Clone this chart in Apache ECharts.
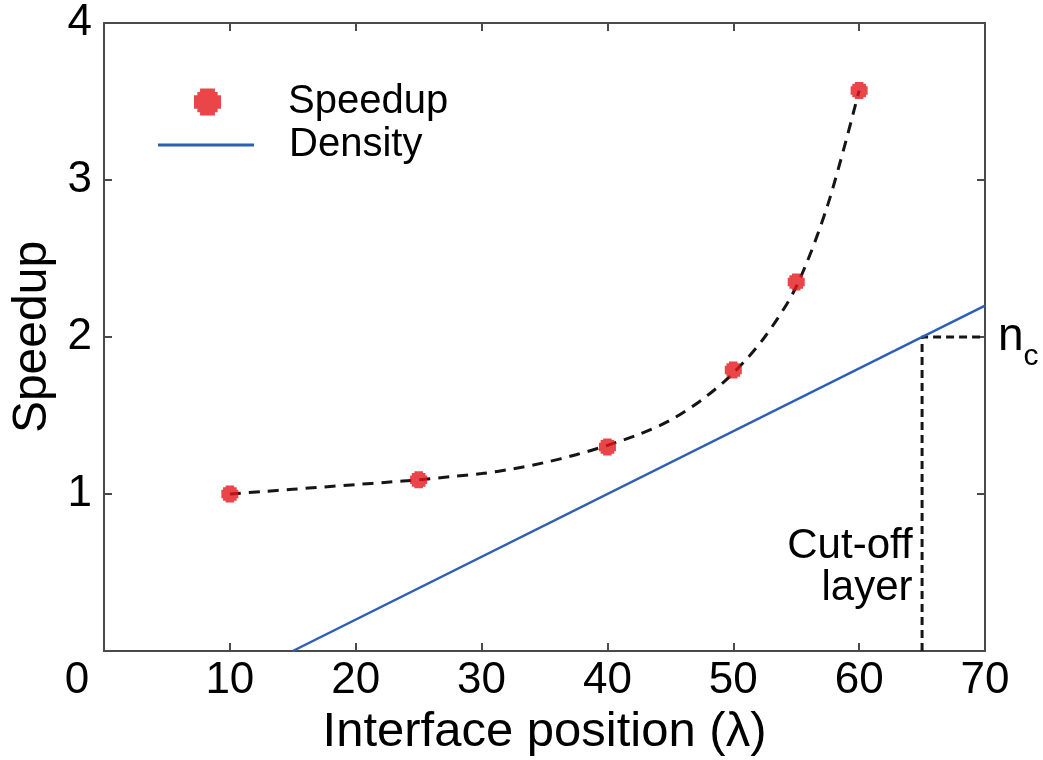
<!DOCTYPE html>
<html>
<head>
<meta charset="utf-8">
<script src="https://cdn.jsdelivr.net/npm/echarts@6/dist/echarts.min.js"></script>
<style>
  html, body { margin: 0; padding: 0; background: #ffffff; }
  #chart { width: 1043px; height: 760px; }
</style>
</head>
<body>
<div id="chart"></div>
<script>
// Measured speedup at each interface position (in units of λ)
const positions = [10, 25, 40, 50, 55, 60];
const speedup = [1.0, 1.09, 1.30, 1.79, 2.35, 3.57];

// Fitted trend through the measurements (dashed curve)
const fitX = [10, 12.5, 15, 17.5, 20, 22.5, 25, 27.5, 30, 32.5, 35, 37.5, 40, 42.5, 45, 47.5, 50, 52.5, 55, 57.5, 60];
const fitY = [1.00, 1.015, 1.03, 1.045, 1.06, 1.075, 1.09, 1.11, 1.13, 1.16, 1.20, 1.25, 1.31, 1.38, 1.47, 1.60, 1.77, 2.00, 2.32, 2.84, 3.57];

// Density profile (straight line)
const densityX = [15, 70];
const densityY = [0, 2.2];

// Cut-off layer guide: down to the axis at x = 65, across to the right edge at n_c
const cutoffX = [65, 65, 70];
const cutoffY = [0, 2, 2];
const cutoffLabelY = 0.53;

// Axis ranges and ticks
const xRange = [0, 70];
const xStep = 10;
const yRange = [0, 4];
const yStep = 1;

const FONT = '"Liberation Sans", Arial, Helvetica, sans-serif';
const AXIS_COLOR = '#4a4a4a';
const RED = '#e5161a';
const BLUE = '#2d5fb4';
const DARK = '#151515';
const MARKER = 'path://M5,0 H15 V2 H18 V5 H20 V15 H18 V18 H15 V20 H5 V18 H2 V15 H0 V5 H2 V2 H5 Z';
const LEGEND_MARKER = 'path://M4.5,0 H15.5 V2.5 H17.5 V5 H20 V15 H17.5 V17.5 H15.5 V20 H4.5 V17.5 H2.5 V15 H0 V5 H2.5 V2.5 H4.5 Z';

const zip = (xs, ys) => xs.map((x, i) => [x, ys[i]]);

const axisLine = { show: true, onZero: false, lineStyle: { color: AXIS_COLOR, width: 2 } };
const axisTick = { show: true, inside: true, length: 8, lineStyle: { color: AXIS_COLOR, width: 2 } };

const chart = echarts.init(document.getElementById('chart'), null, { renderer: 'canvas' });

chart.setOption({
  animation: false,
  backgroundColor: '#ffffff',
  textStyle: { fontFamily: FONT },
  grid: {
    left: 104, right: 58, top: 23, bottom: 109,
    containLabel: false,
    outerBoundsMode: 'none'
  },
  legend: [
    {
      data: [{ name: 'Speedup', icon: LEGEND_MARKER }],
      left: 194, top: 82,
      padding: 0,
      orient: 'vertical',
      itemWidth: 27, itemHeight: 27,
      selectedMode: false,
      textStyle: { fontFamily: FONT, fontSize: 40, color: '#000', padding: [0, 0, 0, 62] }
    },
    {
      data: [{ name: 'Density', icon: 'rect' }],
      left: 158, top: 125,
      padding: 0,
      orient: 'vertical',
      itemWidth: 96, itemHeight: 3,
      selectedMode: false,
      textStyle: { fontFamily: FONT, fontSize: 40, color: '#000', padding: [0, 0, 0, 30] }
    }
  ],
  xAxis: [
    {
      type: 'value',
      position: 'bottom',
      min: xRange[0], max: xRange[1], interval: xStep,
      axisLine, axisTick,
      splitLine: { show: false },
      axisLabel: {
        fontFamily: FONT, fontSize: 44, color: '#000', margin: 8,
        formatter: v => (v === 0 ? '{z|0}' : String(v)),
        rich: { z: { fontFamily: FONT, fontSize: 44, color: '#000', padding: [0, 54, 0, 0] } }
      },
      name: 'Interface position (λ)',
      nameLocation: 'middle',
      nameGap: 45,
      nameTextStyle: { fontFamily: FONT, fontSize: 49, color: '#000' }
    },
    {
      type: 'value',
      position: 'top',
      min: xRange[0], max: xRange[1], interval: xStep,
      axisLine, axisTick,
      splitLine: { show: false },
      axisLabel: { show: false }
    }
  ],
  yAxis: [
    {
      type: 'value',
      position: 'left',
      min: yRange[0], max: yRange[1], interval: yStep,
      axisLine, axisTick,
      splitLine: { show: false },
      axisLabel: {
        fontFamily: FONT, fontSize: 44, color: '#000', margin: 12,
        formatter: v => (v === 0 ? '' : String(v))
      },
      name: 'Speedup',
      nameLocation: 'middle',
      nameGap: 42,
      nameTextStyle: { fontFamily: FONT, fontSize: 48, color: '#000' }
    },
    {
      type: 'value',
      position: 'right',
      min: yRange[0], max: yRange[1], interval: yStep,
      axisLine, axisTick,
      splitLine: { show: false },
      axisLabel: { show: false }
    }
  ],
  series: [
    {
      name: 'fit',
      type: 'line',
      data: zip(fitX, fitY),
      smooth: 0.3,
      symbol: 'none',
      silent: true,
      z: 2,
      lineStyle: { color: DARK, width: 3, type: [11, 8] }
    },
    {
      name: 'Speedup',
      type: 'scatter',
      data: zip(positions, speedup),
      symbol: MARKER,
      symbolSize: 17,
      z: 4,
      itemStyle: { color: RED }
    },
    {
      name: 'Density',
      type: 'line',
      data: zip(densityX, densityY),
      symbol: 'none',
      z: 3,
      lineStyle: { color: BLUE, width: 2.5 },
      itemStyle: { color: BLUE }
    },
    {
      name: 'cutoff',
      type: 'line',
      data: zip(cutoffX, cutoffY),
      symbol: 'none',
      silent: true,
      z: 2,
      lineStyle: { color: DARK, width: 3, type: [8, 5] },
      endLabel: {
        show: true,
        distance: 13,
        formatter: '{n|n}{c|c}',
        rich: {
          n: { fontFamily: FONT, fontSize: 46, color: '#000', verticalAlign: 'top', lineHeight: 46 },
          c: { fontFamily: FONT, fontSize: 30, color: '#000', verticalAlign: 'top', lineHeight: 30, padding: [28, 0, 0, 0] }
        }
      },
      markPoint: {
        silent: true,
        symbol: 'circle',
        symbolSize: 1,
        itemStyle: { color: 'rgba(0,0,0,0)' },
        data: [{ coord: [cutoffX[0], cutoffLabelY] }],
        label: {
          show: true,
          position: 'left',
          distance: 9,
          align: 'right',
          formatter: 'Cut-off\nlayer',
          fontFamily: FONT, fontSize: 42, lineHeight: 42, color: '#000'
        }
      }
    }
  ]
});
</script>
</body>
</html>
